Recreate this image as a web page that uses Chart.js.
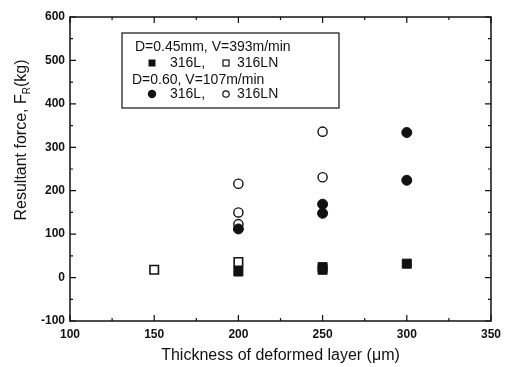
<!DOCTYPE html>
<html>
<head>
<meta charset="utf-8">
<script src="https://cdn.jsdelivr.net/npm/chart.js@4/dist/chart.umd.min.js"></script>
<style>
  html, body { margin: 0; padding: 0; background: #fff; }
  #wrap { width: 507px; height: 367px; position: relative; }
</style>
</head>
<body>
<div id="wrap"><canvas id="chart"></canvas></div>
<script>
// D=0.45mm, V=393m/min
const smallX316L = [200, 250, 250, 300];
const smallY316L = [14, 24, 18, 32];
const smallX316LN = [150, 200];
const smallY316LN = [18, 36];
// D=0.60, V=107m/min
const bigX316L = [200, 250, 250, 300, 300];
const bigY316L = [112, 169, 148, 334, 224];
const bigX316LN = [200, 200, 200, 250, 250];
const bigY316LN = [216, 150, 123, 336, 231];

const xTicks = [100, 150, 200, 250, 300, 350];
const yTicks = [-100, 0, 100, 200, 300, 400, 500, 600];

const FONT = '"Liberation Sans", Arial, sans-serif';

function toPoints(xs, ys) {
    return xs.map((x, i) => ({ x: x, y: ys[i] }));
}

// frame with inward ticks on all four sides, y title, legend box
const framePlugin = {
    id: 'frame',
    afterDraw(chart) {
        const ctx = chart.ctx;
        const a = chart.chartArea;
        const xs = chart.scales.x;
        const ys = chart.scales.y;
        ctx.save();
        ctx.strokeStyle = '#111';
        ctx.lineWidth = 1.5;
        ctx.strokeRect(a.left, a.top, a.right - a.left, a.bottom - a.top);
        ctx.lineWidth = 1.2;
        for (let v = 100; v <= 350; v += 25) {
            const px = xs.getPixelForValue(v);
            const len = v % 50 === 0 ? 6 : 3;
            ctx.beginPath();
            ctx.moveTo(px, a.bottom); ctx.lineTo(px, a.bottom - len);
            ctx.moveTo(px, a.top); ctx.lineTo(px, a.top + len);
            ctx.stroke();
        }
        for (let v = -100; v <= 600; v += 50) {
            const py = ys.getPixelForValue(v);
            const len = v % 100 === 0 ? 6 : 3;
            ctx.beginPath();
            ctx.moveTo(a.left, py); ctx.lineTo(a.left + len, py);
            ctx.moveTo(a.right, py); ctx.lineTo(a.right - len, py);
            ctx.stroke();
        }

        // y axis title with subscript
        ctx.fillStyle = '#111';
        ctx.translate(22, 140);
        ctx.rotate(-Math.PI / 2);
        ctx.textBaseline = 'middle';
        const main = 'Resultant force, F';
        ctx.font = '16px ' + FONT;
        const w1 = ctx.measureText(main).width;
        ctx.font = '10px ' + FONT;
        const w2 = ctx.measureText('R').width;
        ctx.font = '16px ' + FONT;
        const w3 = ctx.measureText('(kg)').width;
        let x0 = -(w1 + w2 + w3) / 2;
        ctx.textAlign = 'left';
        ctx.fillText(main, x0, 0);
        ctx.font = '10px ' + FONT;
        ctx.fillText('R', x0 + w1, 5);
        ctx.font = '16px ' + FONT;
        ctx.fillText('(kg)', x0 + w1 + w2, 0);
        ctx.restore();

        // legend box
        ctx.save();
        const bx = Math.round(xs.getPixelForValue(130)) + 1, by = Math.round(ys.getPixelForValue(564));
        const bw = 217, bh = 75;
        ctx.strokeStyle = '#111';
        ctx.lineWidth = 1.2;
        ctx.strokeRect(bx, by, bw, bh);
        ctx.fillStyle = '#111';
        ctx.font = '14px ' + FONT;
        ctx.textBaseline = 'middle';
        ctx.textAlign = 'left';
        ctx.fillText('D=0.45mm, V=393m/min', bx + 13, by + 14);
        ctx.fillText('316L,', bx + 48, by + 30);
        ctx.fillText('316LN', bx + 115, by + 30);
        ctx.fillText('D=0.60, V=107m/min', bx + 10, by + 47);
        ctx.fillText('316L,', bx + 48, by + 61);
        ctx.fillText('316LN', bx + 115, by + 61);
        // symbols
        ctx.fillRect(bx + 26.5, by + 26.5, 7, 7);
        ctx.lineWidth = 1.2;
        ctx.strokeRect(bx + 101, by + 27, 6, 6);
        ctx.beginPath();
        ctx.arc(bx + 30, by + 61, 4.2, 0, Math.PI * 2);
        ctx.fill();
        ctx.beginPath();
        ctx.arc(bx + 104, by + 61, 3.2, 0, Math.PI * 2);
        ctx.stroke();
        ctx.restore();
    }
};

const ctx = document.getElementById('chart').getContext('2d');
const chart = new Chart(ctx, {
    type: 'scatter',
    data: {
        datasets: [
            {
                data: toPoints(smallX316L, smallY316L),
                pointStyle: 'rect',
                pointRadius: 6.4,
                backgroundColor: '#111',
                borderColor: '#111',
                borderWidth: 1
            },
            {
                data: toPoints(bigX316L, bigY316L),
                pointStyle: 'circle',
                pointRadius: 5,
                backgroundColor: '#111',
                borderColor: '#111',
                borderWidth: 1
            },
            {
                data: toPoints(smallX316LN, smallY316LN),
                pointStyle: 'rect',
                pointRadius: 6,
                backgroundColor: '#fff',
                borderColor: '#111',
                borderWidth: 1.6
            },
            {
                data: toPoints(bigX316LN, bigY316LN),
                pointStyle: 'circle',
                pointRadius: 4.6,
                backgroundColor: '#fff',
                borderColor: '#111',
                borderWidth: 1.4
            }
        ]
    },
    options: {
        responsive: true,
        maintainAspectRatio: false,
        animation: false,
        layout: { padding: { top: 17, right: 12, left: 0, bottom: 0 } },
        plugins: {
            legend: { display: false },
            tooltip: { enabled: false }
        },
        scales: {
            x: {
                type: 'linear',
                min: 100,
                max: 350,
                afterBuildTicks: (s) => { s.ticks = xTicks.map(v => ({ value: v })); },
                afterFit: (s) => { s.height = 46; },
                grid: { display: false, drawTicks: false },
                border: { display: false },
                ticks: {
                    color: '#111',
                    font: { family: FONT, size: 12, weight: 'bold' },
                    padding: 6,
                    maxRotation: 0
                },
                title: {
                    display: true,
                    text: 'Thickness of deformed layer (\u03bcm)',
                    color: '#111',
                    font: { family: FONT, size: 16 },
                    padding: { top: 4, bottom: 2 }
                }
            },
            y: {
                type: 'linear',
                min: -100,
                max: 600,
                afterBuildTicks: (s) => { s.ticks = yTicks.map(v => ({ value: v })); },
                afterFit: (s) => { s.width = 70; },
                grid: { display: false, drawTicks: false },
                border: { display: false },
                ticks: {
                    color: '#111',
                    font: { family: FONT, size: 12, weight: 'bold' },
                    padding: 5
                }
            }
        }
    },
    plugins: [framePlugin]
});
</script>
</body>
</html>
